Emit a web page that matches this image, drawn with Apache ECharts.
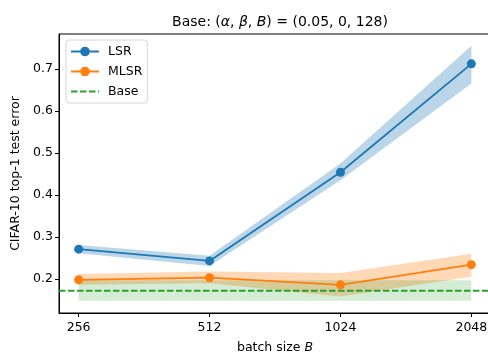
<!DOCTYPE html>
<html>
<head>
<meta charset="utf-8">
<script src="https://cdn.jsdelivr.net/npm/echarts@6/dist/echarts.min.js"></script>
<style>html,body{margin:0;padding:0;background:#fff;}#c{width:488px;height:353px;}</style>
</head>
<body>
<div id="c"></div>
<script>
var batchLabels = ['256', '512', '1024', '2048'];
var xPos = [0, 1, 2, 3];
var lsrMean = [0.271, 0.243, 0.454, 0.712];
var lsrLow  = [0.261, 0.231, 0.435, 0.665];
var lsrHigh = [0.281, 0.255, 0.475, 0.755];
var mlsrMean = [0.198, 0.203, 0.186, 0.234];
var mlsrLow  = [0.186, 0.190, 0.158, 0.205];
var mlsrHigh = [0.212, 0.218, 0.214, 0.260];
var baseValue = 0.172;
var baseLow  = [0.148, 0.148, 0.148, 0.148];
var baseHigh = [0.197, 0.197, 0.197, 0.197];
var yTicks = [0.2, 0.3, 0.4, 0.5, 0.6, 0.7];

var XMIN = -0.15, XMAX = 3.15;
var FONT = 'DejaVu Sans';
var FS = 12.5;

function bandSeries(low, high, color, opacity, z) {
  var data = xPos.map(function (x, i) { return [x, low[i], high[i]]; });
  return {
    type: 'custom',
    silent: true,
    z: z,
    data: data,
    encode: { x: 0, y: [1, 2] },
    renderItem: function (params, api) {
      if (params.dataIndex !== 0) return null;
      var pts = [];
      for (var i = 0; i < data.length; i++) pts.push(api.coord([data[i][0], data[i][2]]));
      for (var j = data.length - 1; j >= 0; j--) pts.push(api.coord([data[j][0], data[j][1]]));
      return { type: 'polygon', shape: { points: pts }, style: { fill: color, opacity: opacity } };
    }
  };
}

function pairs(ys) { return xPos.map(function (x, i) { return [x, ys[i]]; }); }

var chart = echarts.init(document.getElementById('c'), null, { renderer: 'canvas' });
chart.setOption({
  animation: false,
  backgroundColor: '#fff',
  textStyle: { fontFamily: FONT },
  title: {
    text: '{a|Base: (}{i|α}{a|, }{i|β}{a|, }{i|B}{a|) = (0.05, 0, 128)}',
    left: 275, top: 10, textAlign: 'center',
    textStyle: {
      fontWeight: 'normal',
      rich: {
        a: { fontFamily: FONT, fontSize: 14, color: '#000', fontWeight: 'normal' },
        i: { fontFamily: FONT, fontSize: 14, color: '#000', fontStyle: 'italic', fontWeight: 'normal' }
      }
    }
  },
  legend: {
    left: 66, top: 40, orient: 'vertical',
    itemWidth: 28, itemHeight: 12, itemGap: 7,
    padding: [5, 5, 5, 4],
    borderColor: '#d6d6d6', borderWidth: 1, borderRadius: 3,
    backgroundColor: 'rgba(255,255,255,0.85)',
    textStyle: { fontFamily: FONT, fontSize: 12.5, color: '#000', padding: [0, 0, 0, 4] },
    data: [
      { name: 'LSR' },
      { name: 'MLSR' },
      { name: 'Base', itemStyle: { opacity: 0 } }
    ]
  },
  grid: { left: 59, top: 34, width: 432, height: 279, outerBoundsMode: 'none', containLabel: false, show: true, borderColor: '#000', borderWidth: 1, backgroundColor: 'transparent' },
  xAxis: {
    type: 'value', min: XMIN, max: XMAX,
    name: '{a|batch size }{i|B}', nameLocation: 'middle', nameGap: 28,
    nameTextStyle: {
      rich: {
        a: { fontFamily: FONT, fontSize: FS, color: '#000' },
        i: { fontFamily: FONT, fontSize: FS, color: '#000', fontStyle: 'italic' }
      }
    },
    splitLine: { show: false },
    axisLine: { onZero: false, lineStyle: { color: '#000', width: 1 } },
    axisTick: { show: true, length: 4, lineStyle: { color: '#000' }, customValues: xPos },
    axisLabel: {
      customValues: xPos, margin: 8, fontSize: FS, color: '#000', fontFamily: FONT,
      formatter: function (v) { return batchLabels[Math.round(v)]; }
    }
  },
  yAxis: {
    type: 'value', min: 0.119, max: 0.783,
    name: 'CIFAR-10 top-1 test error', nameLocation: 'middle', nameGap: 35,
    nameTextStyle: { fontFamily: FONT, fontSize: FS, color: '#000' },
    splitLine: { show: false },
    axisLine: { show: true, onZero: false, lineStyle: { color: '#000', width: 1 } },
    axisTick: { show: true, length: 4, lineStyle: { color: '#000' }, customValues: yTicks },
    axisLabel: {
      customValues: yTicks, margin: 6, fontSize: FS, color: '#000', fontFamily: FONT,
      formatter: function (v) { return v.toFixed(1); }
    }
  },
  series: [
    bandSeries(lsrLow, lsrHigh, '#1f77b4', 0.3, 1),
    bandSeries(mlsrLow, mlsrHigh, '#ff7f0e', 0.3, 1),
    bandSeries(baseLow, baseHigh, '#2ca02c', 0.2, 1),
    {
      name: 'LSR', type: 'line', data: pairs(lsrMean), z: 3,
      symbol: 'circle', symbolSize: 9, color: '#1f77b4',
      lineStyle: { color: '#1f77b4', width: 1.8 }, itemStyle: { color: '#1f77b4' }
    },
    {
      name: 'MLSR', type: 'line', data: pairs(mlsrMean), z: 3,
      symbol: 'circle', symbolSize: 9, color: '#ff7f0e',
      lineStyle: { color: '#ff7f0e', width: 1.8 }, itemStyle: { color: '#ff7f0e' }
    },
    {
      name: 'Base', type: 'line', data: [[XMIN, baseValue], [XMAX, baseValue]], z: 4,
      symbol: 'none', color: '#2ca02c',
      lineStyle: { color: '#2ca02c', width: 1.8, type: [6.5, 2.5] }
    }
  ]
});
</script>
</body>
</html>
